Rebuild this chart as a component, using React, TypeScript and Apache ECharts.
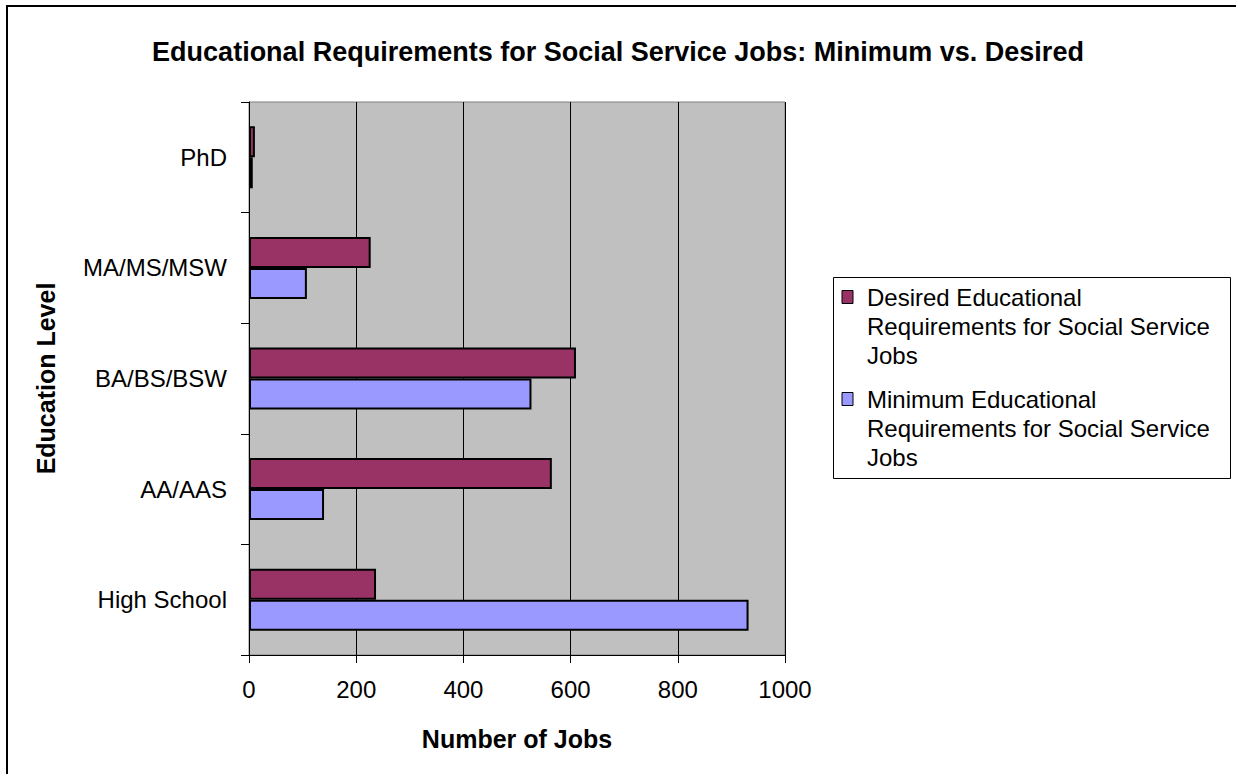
import React, { useEffect, useRef } from "react";
import * as echarts from "echarts";

const categories = ["High School", "AA/AAS", "BA/BS/BSW", "MA/MS/MSW", "PhD"];
const desiredValues = [237, 565, 610, 227, 11];
const minimumValues = [932, 140, 527, 108, 7];
const xTicks = { min: 0, max: 1000, interval: 200 };
const desiredName = "Desired Educational Requirements for Social Service Jobs";
const minimumName = "Minimum Educational Requirements for Social Service Jobs";
const desiredLegendLines = ["Desired Educational", "Requirements for Social Service", "Jobs"];
const minimumLegendLines = ["Minimum Educational", "Requirements for Social Service", "Jobs"];
const titleText = "Educational Requirements for Social Service Jobs: Minimum vs. Desired";

const FONT = "'Liberation Sans', Arial, sans-serif";
const DESIRED_COLOR = "#993366";
const MINIMUM_COLOR = "#9999FF";

export default function App() {
  const ref = useRef<HTMLDivElement>(null);
  useEffect(() => {
    if (!ref.current) return;
    const chart = echarts.init(ref.current, undefined, { renderer: "svg" });

    const legendItem = (lines: string[], color: string, top: number) => [
      {
        type: "rect",
        shape: { x: 842, y: top - 6.5, width: 11, height: 13 },
        style: { fill: color, stroke: "#000", lineWidth: 1 },
      },
      ...lines.map((t, i) => ({
        type: "text",
        x: 867,
        y: top + i * 29,
        style: {
          text: t,
          font: `24px ${FONT}`,
          fill: "#000",
          textVerticalAlign: "middle",
          verticalAlign: "middle",
        },
      })),
    ];

    chart.setOption({
      animation: false,
      backgroundColor: "#fff",
      title: {
        text: titleText,
        left: "center",
        top: 33,
        textStyle: { fontFamily: FONT, fontSize: 27, fontWeight: "bold", color: "#000" },
      },
      grid: {
        left: 249,
        top: 102,
        right: 1236 - 785,
        bottom: 774 - 655,
        show: true,
        backgroundColor: "#C0C0C0",
        borderColor: "#808080",
        borderWidth: 1,
        containLabel: false,
      },
      xAxis: {
        type: "value",
        min: xTicks.min,
        max: xTicks.max,
        interval: xTicks.interval,
        name: "Number of Jobs",
        nameLocation: "middle",
        nameGap: 71,
        nameTextStyle: { fontFamily: FONT, fontSize: 25, fontWeight: "bold", color: "#000" },
        axisLine: { show: true, lineStyle: { color: "#000", width: 1 } },
        axisTick: { show: true, length: 8, lineStyle: { color: "#000" } },
        axisLabel: {
          fontFamily: FONT,
          fontSize: 24,
          color: "#000",
          margin: 22,
          formatter: (v: number) => String(v),
        },
        splitLine: { show: true, lineStyle: { color: "#000", width: 1 } },
      },
      yAxis: {
        type: "category",
        data: categories,
        name: "Education Level",
        nameLocation: "middle",
        nameGap: 191,
        nameTextStyle: { fontFamily: FONT, fontSize: 25, fontWeight: "bold", color: "#000" },
        axisLine: { show: true, lineStyle: { color: "#000", width: 1 } },
        axisTick: { show: true, length: 8, lineStyle: { color: "#000" } },
        axisLabel: { fontFamily: FONT, fontSize: 24, color: "#000", margin: 22 },
        splitLine: { show: false },
      },
      series: [
        {
          name: desiredName,
          type: "bar",
          data: desiredValues,
          barWidth: 31,
          barGap: "0%",
          itemStyle: { color: DESIRED_COLOR, borderColor: "#000", borderWidth: 2 },
        },
        {
          name: minimumName,
          type: "bar",
          data: minimumValues,
          barWidth: 31,
          barGap: "0%",
          itemStyle: { color: MINIMUM_COLOR, borderColor: "#000", borderWidth: 2 },
        },
      ],
      graphic: [
        {
          type: "rect",
          silent: true,
          shape: { x: 7, y: 6, width: 1260, height: 800 },
          style: { fill: "none", stroke: "#000", lineWidth: 2 },
        },
        {
          type: "rect",
          silent: true,
          shape: { x: 833.5, y: 277.5, width: 397, height: 201 },
          style: { fill: "#fff", stroke: "#000", lineWidth: 1 },
        },
        ...legendItem(desiredLegendLines, DESIRED_COLOR, 297),
        ...legendItem(minimumLegendLines, MINIMUM_COLOR, 399),
      ],
    });
    return () => chart.dispose();
  }, []);
  return (
    <div
      ref={ref}
      style={{ position: "fixed", left: 0, top: 0, width: 1236, height: 774 }}
    />
  );
}
